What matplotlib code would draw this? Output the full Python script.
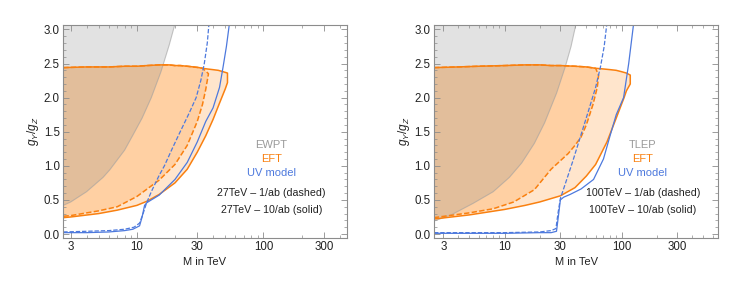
import matplotlib
matplotlib.use("Agg")
import matplotlib.pyplot as plt
from matplotlib.ticker import FixedLocator, NullFormatter

plt.rcParams['font.family'] = ['Liberation Sans', 'DejaVu Sans']
plt.rcParams['mathtext.fontset'] = 'custom'
plt.rcParams['mathtext.rm'] = 'Liberation Sans'
plt.rcParams['mathtext.it'] = 'Liberation Sans:italic'

# ---------------- data: 27 TeV panel ----------------
ewpt_m = [2.62, 3.0, 4.0, 5.4, 6.1, 8.0, 9.3, 11.0, 13.0, 15.5, 18.0, 20.0]
ewpt_g = [0.42, 0.47, 0.62, 0.83, 0.94, 1.23, 1.45, 1.70, 2.00, 2.38, 2.77, 3.08]

top10_m = [2.62, 4, 6, 8, 10, 12, 15, 18, 20, 22, 25, 28, 31, 33, 36, 40, 44, 48, 52]
top10_g = [2.44, 2.45, 2.45, 2.46, 2.46, 2.47, 2.48, 2.48, 2.47, 2.47, 2.46, 2.45, 2.44, 2.43, 2.42, 2.41, 2.40, 2.38, 2.36]
bot10_m = [52, 52, 50, 45, 40, 35, 30, 25, 20, 15, 12, 10, 7, 5, 3, 2.62]
bot10_g = [2.36, 2.22, 2.13, 1.92, 1.68, 1.44, 1.20, 0.95, 0.75, 0.58, 0.48, 0.42, 0.35, 0.30, 0.25, 0.24]

top1_m = [2.62, 4, 6, 8, 10, 12, 15, 18, 20, 22, 25, 28, 31, 33, 35, 36.8]
top1_g = [2.44, 2.45, 2.45, 2.46, 2.46, 2.47, 2.48, 2.48, 2.47, 2.47, 2.46, 2.45, 2.44, 2.43, 2.39, 2.35]
bot1_m = [36.8, 36, 35, 33, 30, 25, 20, 15, 10, 7, 5, 3, 2.62]
bot1_g = [2.35, 2.25, 2.12, 1.90, 1.65, 1.30, 1.02, 0.79, 0.55, 0.40, 0.34, 0.27, 0.26]

uv10_m = [2.62, 4, 6, 8, 9.3, 10.5, 11.0, 11.5, 12, 13, 15, 20, 25, 30, 35, 40, 45, 48, 51, 54]
uv10_g = [0.02, 0.02, 0.03, 0.05, 0.07, 0.12, 0.25, 0.42, 0.46, 0.50, 0.57, 0.80, 1.05, 1.35, 1.65, 1.85, 2.15, 2.45, 2.75, 3.10]
uv1_m = [2.62, 4, 6, 8, 9.5, 10.5, 11.2, 11.9, 13, 15, 16.5, 19, 22, 26, 29.4, 32, 34.1, 36, 37.2]
uv1_g = [0.03, 0.04, 0.05, 0.07, 0.10, 0.16, 0.30, 0.45, 0.62, 0.86, 1.00, 1.25, 1.50, 1.78, 2.00, 2.25, 2.50, 2.80, 3.10]

# ---------------- data: 100 TeV panel ----------------
tlep_m = [2.5, 3.5, 5.4, 8, 11, 14, 18, 22, 27.9, 33, 37, 40.8]
tlep_g = [0.19, 0.28, 0.45, 0.62, 0.83, 1.04, 1.33, 1.63, 2.07, 2.45, 2.75, 3.08]

top10r_m = [2.5, 4, 6, 10, 15, 20, 25, 30, 40, 50, 60, 70, 80, 90, 100, 110, 118.6]
top10r_g = [2.44, 2.45, 2.46, 2.47, 2.48, 2.48, 2.47, 2.47, 2.46, 2.45, 2.43, 2.42, 2.41, 2.40, 2.38, 2.36, 2.33]
bot10r_m = [118.6, 118.6, 110, 105, 90, 75, 60, 50, 40, 30, 20, 15, 10, 5, 2.5]
bot10r_g = [2.33, 2.20, 2.10, 2.00, 1.70, 1.35, 1.02, 0.85, 0.68, 0.56, 0.47, 0.42, 0.36, 0.28, 0.22]

top1r_m = [2.5, 4, 6, 10, 15, 20, 25, 30, 40, 50, 60, 63.6]
top1r_g = [2.44, 2.45, 2.46, 2.47, 2.48, 2.48, 2.47, 2.47, 2.46, 2.45, 2.43, 2.33]
bot1r_m = [63.6, 63, 62, 57, 50, 45, 40, 35, 25, 18, 12, 8, 5, 2.5]
bot1r_g = [2.33, 2.25, 2.15, 1.90, 1.60, 1.42, 1.30, 1.18, 0.95, 0.65, 0.47, 0.37, 0.31, 0.24]

uv10r_m = [2.5, 5, 10, 20, 25, 27.8, 28.8, 30.0, 32, 36.3, 45, 57.6, 70, 80, 90, 104, 115, 127]
uv10r_g = [0.01, 0.01, 0.01, 0.02, 0.02, 0.04, 0.25, 0.50, 0.54, 0.58, 0.66, 0.80, 1.10, 1.45, 1.75, 2.00, 2.50, 3.10]
uv1r_m = [2.5, 5, 10, 20, 25, 27.5, 28.6, 30.0, 34, 38, 44, 52, 60, 66, 71, 75]
uv1r_g = [0.02, 0.02, 0.02, 0.03, 0.05, 0.08, 0.30, 0.52, 0.80, 1.05, 1.40, 1.80, 2.15, 2.45, 2.75, 3.10]

xticks = [3, 10, 30, 100, 300]
yticks = [0.0, 0.5, 1.0, 1.5, 2.0, 2.5, 3.0]

ORANGE = '#f98010'
BLUE = '#4d79dd'
GRAY_TXT = '#9a9a9a'
FRAME = '#8c8c8c'


def panel(ax, xlim, gm, gg, t10m, t10g, b10m, b10g, t1m, t1g, b1m, b1g,
          u10m, u10g, u1m, u1g, gray_label, energy):
    # orange EFT regions
    ax.fill(t10m + b10m, t10g + b10g, color='#ff8000', alpha=0.2, lw=0)
    ax.fill(t1m + b1m, t1g + b1g, color='#ff8000', alpha=0.2, lw=0)
    # gray excluded region
    ax.fill([1.0] + gm + [gm[-1], 1.0], [gg[0]] + gg + [3.6, 3.6],
            color='#7f7f7f', alpha=0.22, lw=0)
    ax.plot(gm, gg, color='#a0a0a0', lw=0.8, alpha=0.6)
    # contours
    ax.plot(t10m + b10m, t10g + b10g, color=ORANGE, lw=1.1)
    ax.plot(t1m + b1m, t1g + b1g, color=ORANGE, lw=1.1, dashes=(3.5, 1.5))
    ax.plot(u10m, u10g, color=BLUE, lw=0.9)
    ax.plot(u1m, u1g, color=BLUE, lw=0.9, dashes=(3.5, 1.5))

    ax.set_xscale('log')
    ax.set_xlim(*xlim)
    ax.set_ylim(-0.054, 3.065)
    ax.xaxis.set_major_locator(FixedLocator(xticks))
    ax.set_xticklabels([str(t) for t in xticks])
    minors = [m * 10 ** k for k in range(0, 3) for m in range(2, 10)] + [1000]
    ax.xaxis.set_minor_locator(FixedLocator([v for v in minors if v not in xticks]))
    ax.xaxis.set_minor_formatter(NullFormatter())
    ax.yaxis.set_major_locator(FixedLocator(yticks))
    ax.set_yticklabels(['%.1f' % t for t in yticks])
    ax.yaxis.set_minor_locator(FixedLocator([i / 10 for i in range(0, 31)]))
    ax.tick_params(which='both', direction='in', top=True, right=True,
                   color=FRAME, labelsize=8.3, labelcolor='#222222', pad=2.5)
    ax.tick_params(which='major', length=4, width=0.6)
    ax.tick_params(which='minor', length=2, width=0.5)
    for s in ax.spines.values():
        s.set_color(FRAME)
        s.set_linewidth(0.8)
    ax.set_xlabel('M in TeV', fontsize=8, color='#222222', labelpad=3)
    ax.set_ylabel(r'$g_Y/g_Z$', fontsize=8.5, color='#222222', labelpad=2)

    tx = 0.735
    ax.text(tx, 0.435, gray_label, transform=ax.transAxes, ha='center', va='center',
            color=GRAY_TXT, fontsize=8)
    ax.text(tx, 0.368, 'EFT', transform=ax.transAxes, ha='center', va='center',
            color=ORANGE, fontsize=8)
    ax.text(tx, 0.302, 'UV model', transform=ax.transAxes, ha='center', va='center',
            color=BLUE, fontsize=8)
    ax.text(tx, 0.21, energy + ' \u2013 1/ab (dashed)', transform=ax.transAxes,
            ha='center', va='center', color='#222222', fontsize=7.7)
    ax.text(tx, 0.128, energy + ' \u2013 10/ab (solid)', transform=ax.transAxes,
            ha='center', va='center', color='#222222', fontsize=7.7)


fig = plt.figure(figsize=(7.47, 2.82), dpi=100)
ax1 = fig.add_axes([0.0847, 0.1571, 0.3794, 0.7543])
ax2 = fig.add_axes([0.5810, 0.1571, 0.3806, 0.7543])

panel(ax1, (2.62, 455), ewpt_m, ewpt_g, top10_m, top10_g, bot10_m, bot10_g,
      top1_m, top1_g, bot1_m, bot1_g, uv10_m, uv10_g, uv1_m, uv1_g, 'EWPT', '27TeV')
panel(ax2, (2.5, 670), tlep_m, tlep_g, top10r_m, top10r_g, bot10r_m, bot10r_g,
      top1r_m, top1r_g, bot1r_m, bot1r_g, uv10r_m, uv10r_g, uv1r_m, uv1r_g, 'TLEP', '100TeV')

fig.savefig('out.png', dpi=100)
